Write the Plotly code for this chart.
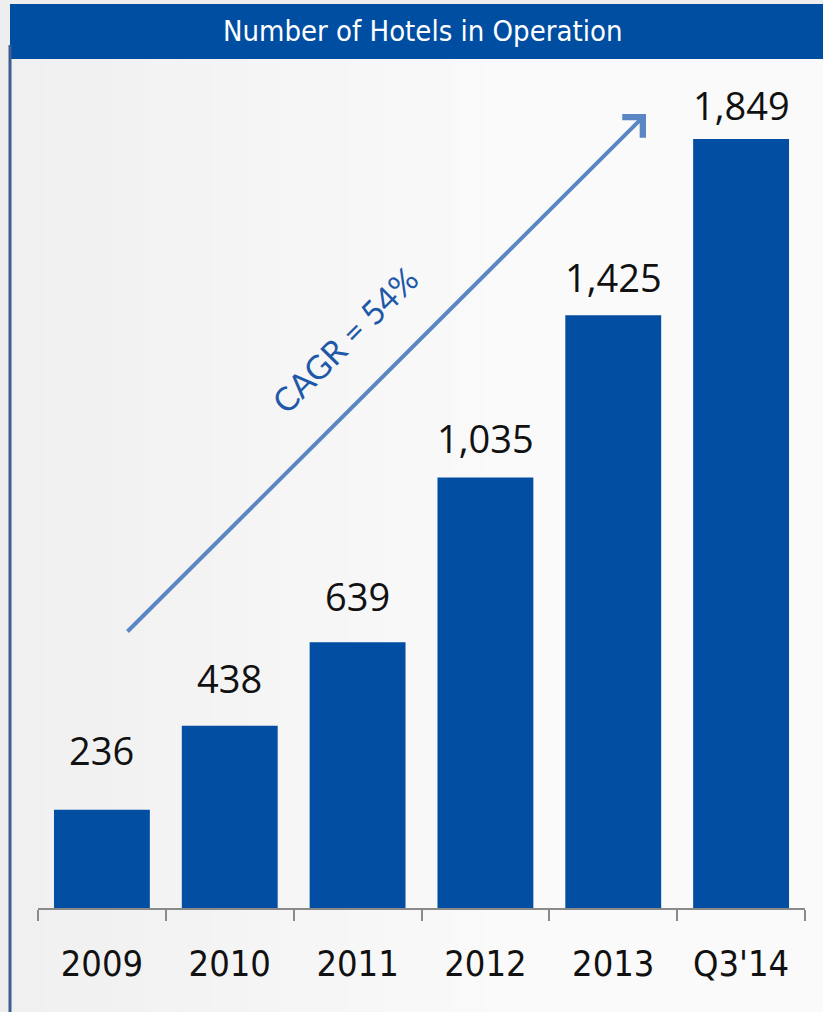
import plotly.graph_objects as go

# Hotels in operation by period
periods = ["2009", "2010", "2011", "2012", "2013", "Q3'14"]
hotels = [236, 438, 639, 1035, 1425, 1849]
value_labels = ["236", "438", "639", "1,035", "1,425", "1,849"]
# vertical lift (px) of each value label above its bar top
label_lift_px = [60, 48, 46, 40, 38, 34]

W, H = 823, 1012
M = dict(l=38, r=18, t=60, b=104)
PW = W - M["l"] - M["r"]
PH = H - M["t"] - M["b"]


def px_x(px):
    return (px - M["l"]) / PW


def px_y(py):
    return (H - M["b"] - py) / PH


BAR_BLUE = "#024EA2"
NARROW = "DejaVu Sans Condensed, Liberation Sans Narrow, Arial Narrow, sans-serif"

fig = go.Figure()
fig.add_trace(go.Bar(
    x=periods, y=hotels,
    marker=dict(color=BAR_BLUE, line=dict(width=0)),
    width=0.75,
    hoverinfo="x+y",
))

shapes = []
# soft left-to-right shading of the panel, drawn as thin vertical strips
n_strips = 24
x_start, x_end = 10, W
strip_w = (x_end - x_start) / n_strips
for k in range(n_strips):
    t = min(1.0, k / (n_strips * 0.6))
    g = int(round(240 + (250 - 240) * t))
    shapes.append(dict(
        type="rect", xref="paper", yref="paper", layer="below",
        x0=px_x(x_start + k * strip_w), x1=px_x(x_start + (k + 1) * strip_w + 0.5),
        y0=px_y(H), y1=px_y(59),
        fillcolor=f"rgb({g},{g},{g})", line=dict(width=0),
    ))

shapes += [
    # header band
    dict(type="rect", xref="paper", yref="paper", layer="below",
         x0=px_x(10), x1=px_x(W), y0=px_y(59), y1=px_y(4),
         fillcolor="#004EA2", line=dict(width=0)),
    # left edge rule
    dict(type="line", xref="paper", yref="paper", layer="below",
         x0=px_x(10), x1=px_x(10), y0=px_y(45), y1=px_y(H),
         line=dict(color="#3E5E93", width=3)),
]

annotations = [
    dict(text="Number of Hotels in Operation", xref="paper", yref="paper",
         x=px_x(422), y=px_y(31), showarrow=False,
         font=dict(family=NARROW, size=29, color="white"),
         xanchor="center", yanchor="middle"),
    # growth arrow
    dict(text="", xref="paper", yref="paper",
         x=px_x(646), y=px_y(114), ax=-520, ay=519,
         showarrow=True, arrowhead=4, arrowsize=1.4, arrowwidth=4,
         arrowcolor="#5A86C4", standoff=0),
    dict(text="CAGR = 54%", xref="paper", yref="paper",
         x=px_x(344), y=px_y(340), showarrow=False, textangle=-45,
         font=dict(family="Lato, Open Sans, sans-serif", size=33, color="#1D59A8"),
         xanchor="center", yanchor="middle"),
]

# value labels, placed by category index so year strings are not read as numbers
for i, (v, lab, lift) in enumerate(zip(hotels, value_labels, label_lift_px)):
    annotations.append(dict(
        text=lab, x=i, y=v, xref="x", yref="y", showarrow=False,
        yanchor="middle", yshift=lift,
        font=dict(family="Open Sans, Noto Sans, sans-serif", size=38, color="#111111"),
    ))

fig.update_layout(
    width=W, height=H, margin=M,
    paper_bgcolor="#eeeeee", plot_bgcolor="rgba(0,0,0,0)",
    showlegend=False, bargap=0.25,
    shapes=shapes, annotations=annotations,
    xaxis=dict(
        type="category", categoryorder="array", categoryarray=periods,
        range=[-0.5, len(periods) - 0.5], autorange=False, automargin=False,
        showgrid=False, zeroline=False,
        showline=True, linecolor="#8a8a8a", linewidth=2,
        ticks="outside", tickson="boundaries", ticklen=11, tickwidth=2,
        tickcolor="#8a8a8a", ticklabelstandoff=23, tickangle=0,
        tickfont=dict(family=NARROW, size=36, color="#111111"),
    ),
    yaxis=dict(range=[0, 2039], visible=False, fixedrange=True, automargin=False),
)

fig.write_html("out.html")
